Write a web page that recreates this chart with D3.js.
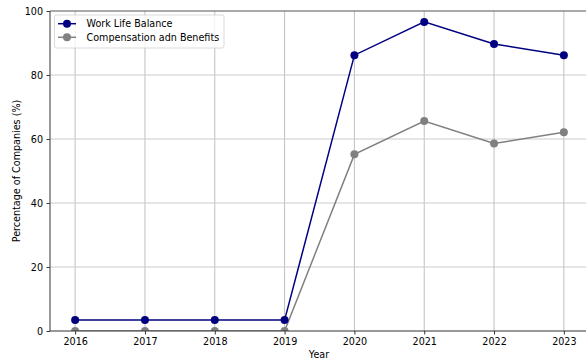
<!DOCTYPE html>
<html><head><meta charset="utf-8">
<script src="https://cdn.jsdelivr.net/npm/d3@7"></script>
<style>body{margin:0;background:#fff}svg{display:block;font-family:"DejaVu Sans",sans-serif}</style>
</head><body><svg id="c" width="586" height="362"></svg>
<script>
const years = [2016, 2017, 2018, 2019, 2020, 2021, 2022, 2023];
const workLife = [3.4, 3.4, 3.4, 3.4, 86.2, 96.6, 89.7, 86.2];
const compensation = [0, 0, 0, 0, 55.2, 65.6, 58.6, 62.1];
const yTicks = [0, 20, 40, 60, 80, 100];
const seriesNames = ["Work Life Balance", "Compensation adn Benefits"];
const seriesColors = ["#000080", "#808080"];

const svg = d3.select("#c");
const L = 50, R = 589, T = 11, B = 331;
const FS = 9.6;
const x = d3.scaleLinear().domain([2015.64, 2023.36]).range([L, R]);
const y = d3.scaleLinear().domain([0, 100]).range([B, T]);

svg.append("defs").append("clipPath").attr("id","clip")
  .append("rect").attr("x", L).attr("y", T).attr("width", R - L).attr("height", B - T);

// gridlines
const g = svg.append("g");
g.selectAll(".vg").data(years).enter().append("line")
  .attr("x1", d => x(d)).attr("x2", d => x(d)).attr("y1", T).attr("y2", B)
  .attr("stroke", "#b0b0b0").attr("stroke-width", 0.8);
g.selectAll(".hg").data(yTicks.slice(1, 5)).enter().append("line")
  .attr("x1", L).attr("x2", R).attr("y1", d => y(d)).attr("y2", d => y(d))
  .attr("stroke", "#cccccc").attr("stroke-width", 1.2);

// axes
const xAxis = d3.axisBottom(x).tickValues(years).tickFormat(d3.format("d")).tickSize(3.5).tickPadding(3.5);
const yAxis = d3.axisLeft(y).tickValues(yTicks).tickSize(3.5).tickPadding(3.5);
const gx = svg.append("g").attr("transform", `translate(0,${B})`).call(xAxis);
const gy = svg.append("g").attr("transform", `translate(${L},0)`).call(yAxis);
[gx, gy].forEach(a => {
  a.select(".domain").remove();
  a.selectAll("line").attr("stroke", "#000").attr("stroke-width", 0.8);
  a.selectAll("text").attr("font-size", FS).attr("fill", "#000").attr("font-family", "DejaVu Sans");
});

// series
const data = [workLife, compensation];
const line = d3.line().x((d, i) => x(years[i])).y(d => y(d));
const plot = svg.append("g").attr("clip-path", "url(#clip)");
data.slice().reverse().forEach((vals, ri) => {
  const si = data.length - 1 - ri;
  plot.append("path").datum(vals).attr("d", line).attr("fill", "none")
    .attr("stroke", seriesColors[si]).attr("stroke-width", 1.5);
  plot.selectAll(".m" + si).data(vals).enter().append("circle")
    .attr("cx", (d, i) => x(years[i])).attr("cy", d => y(d)).attr("r", 4)
    .attr("fill", seriesColors[si]);
});

// spines
svg.append("line").attr("x1", L).attr("x2", L).attr("y1", T).attr("y2", B).attr("stroke", "#555").attr("stroke-width", 1.2);
svg.append("line").attr("x1", L).attr("x2", R).attr("y1", B).attr("y2", B).attr("stroke", "#333").attr("stroke-width", 1.2);
svg.append("line").attr("x1", L).attr("x2", R).attr("y1", T).attr("y2", T).attr("stroke", "#555").attr("stroke-width", 1.2);

// labels
svg.append("text").attr("x", 319).attr("y", 358).attr("text-anchor", "middle")
  .attr("font-size", FS).text("Year");
svg.append("text").attr("transform", `translate(20,${(T + B) / 2}) rotate(-90)`).attr("text-anchor", "middle")
  .attr("font-size", FS).text("Percentage of Companies (%)");

// legend
const lg = svg.append("g").attr("transform", "translate(54.5,15)");
lg.append("rect").attr("x", 0).attr("y", 0).attr("width", 169.5).attr("height", 33).attr("rx", 2)
  .attr("fill", "#fff").attr("fill-opacity", 0.8).attr("stroke", "#d0d0d0").attr("stroke-width", 0.8);
seriesNames.forEach((n, i) => {
  const yy = 8.7 + i * 13.6;
  lg.append("line").attr("x1", 3.5).attr("x2", 21.5).attr("y1", yy).attr("y2", yy).attr("stroke", seriesColors[i]).attr("stroke-width", 1.5);
  lg.append("circle").attr("cx", 12.5).attr("cy", yy).attr("r", 4).attr("fill", seriesColors[i]);
  lg.append("text").attr("x", 32).attr("y", yy + 3.4).attr("font-size", FS).text(n);
});
</script></body></html>
